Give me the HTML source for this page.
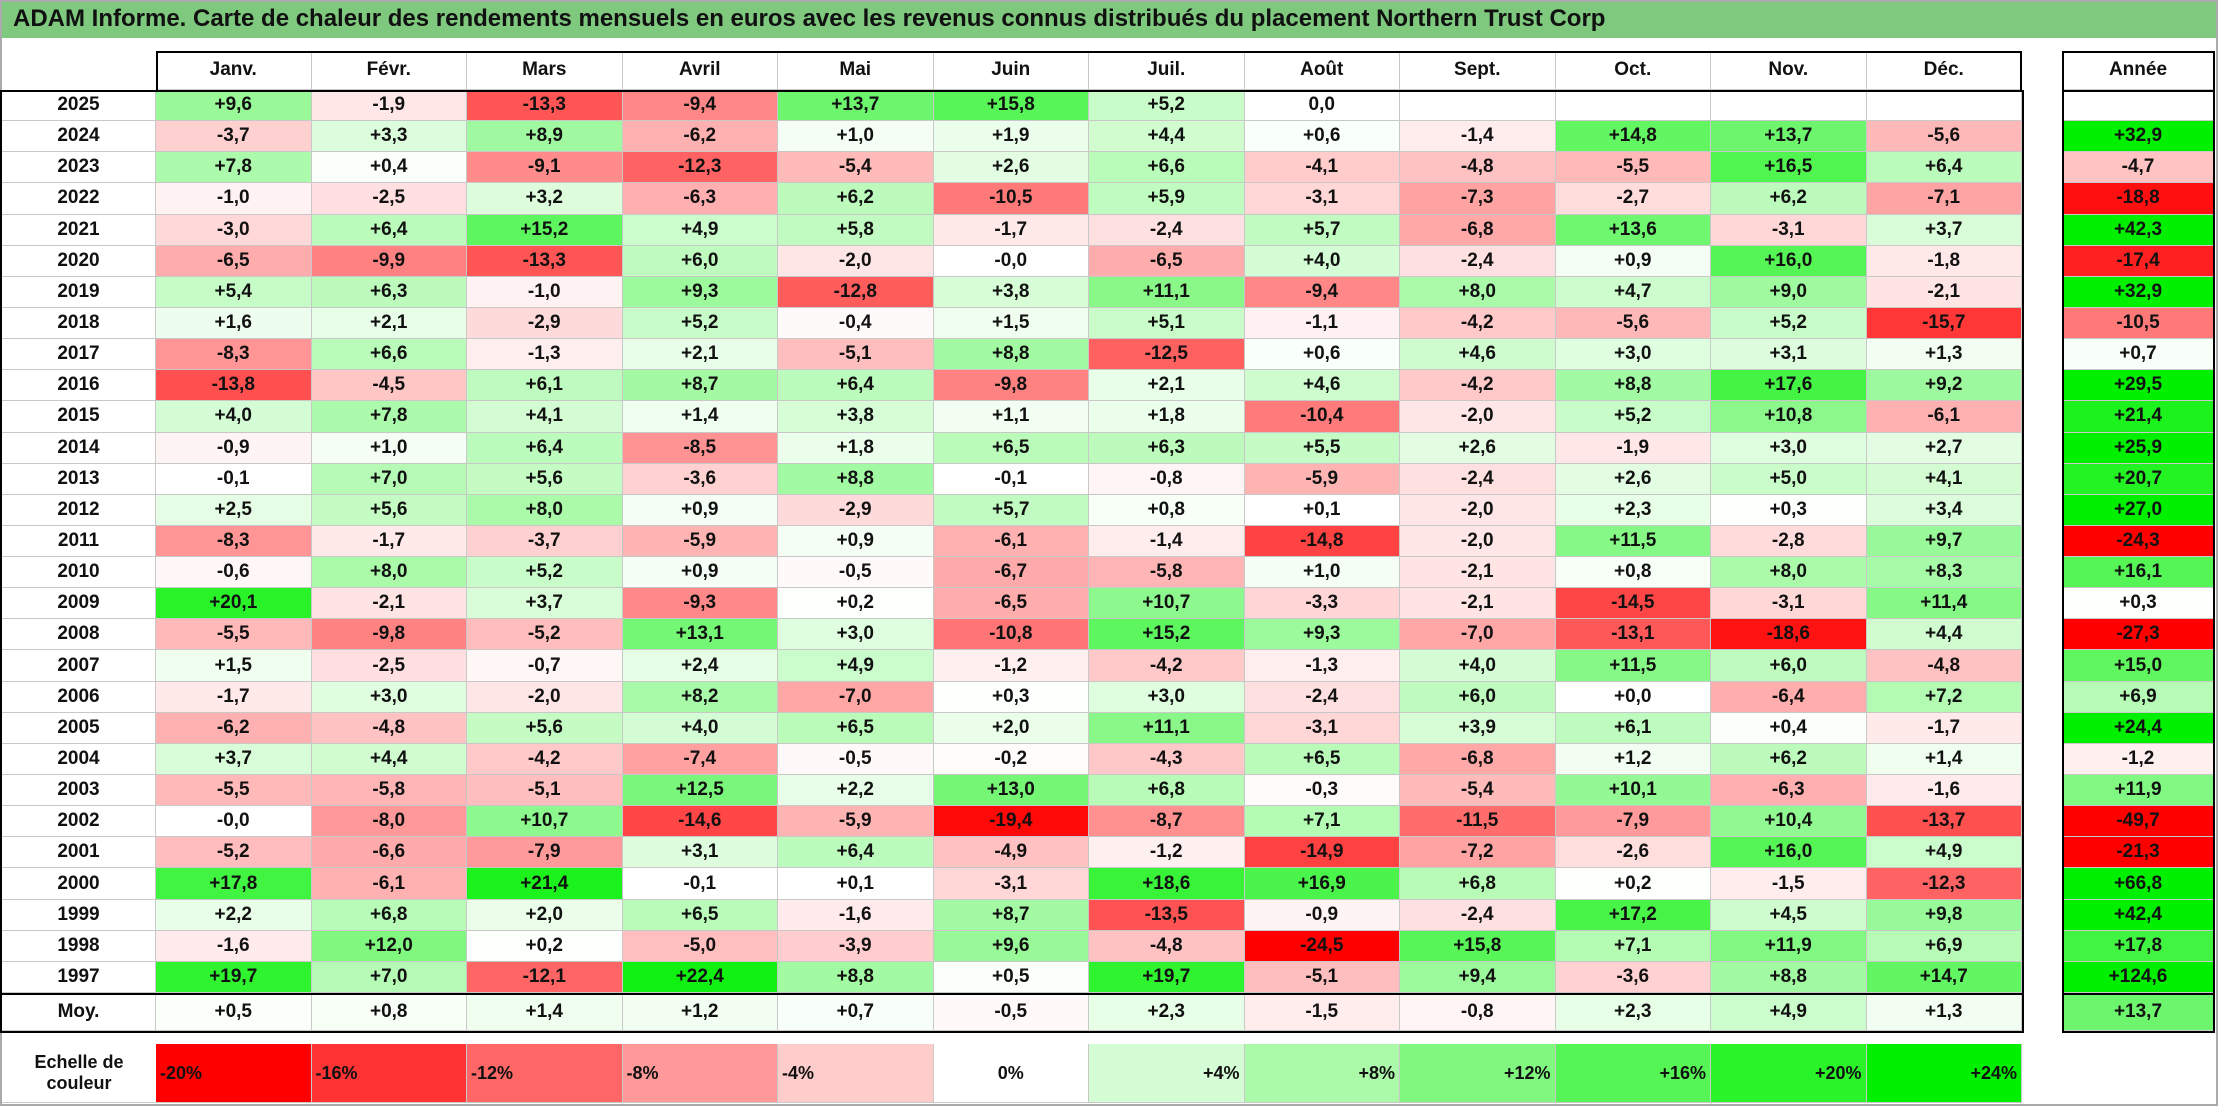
<!DOCTYPE html>
<html><head><meta charset="utf-8">
<style>
body{margin:0;background:#fff;}
#root{position:relative;width:2218px;height:1106px;overflow:hidden;font-family:"Liberation Sans",sans-serif;font-weight:bold;color:#111;}
.c{position:absolute;box-sizing:border-box;display:flex;align-items:center;justify-content:center;font-size:19px;border-right:1px solid #c8c8c8;border-bottom:1px solid #c8c8c8;}
.box{position:absolute;box-sizing:border-box;border:2px solid #000;pointer-events:none;}
</style></head><body>
<div id="root">
<div style="position:absolute;left:2px;top:0;width:2214px;height:38px;background:#7fc97f;font-size:24px;line-height:38px;padding-left:11px;box-sizing:border-box;">ADAM Informe. Carte de chaleur des rendements mensuels en euros avec les revenus connus distribués du placement Northern Trust Corp</div>
<div style="position:absolute;left:0;top:0;width:2218px;height:1106px;box-sizing:border-box;border:2px solid #aaa;pointer-events:none;"></div>
</div>
<script>
const months=["Janv.","Févr.","Mars","Avril","Mai","Juin","Juil.","Août","Sept.","Oct.","Nov.","Déc."];
const years=[2025,2024,2023,2022,2021,2020,2019,2018,2017,2016,2015,2014,2013,2012,2011,2010,2009,2008,2007,2006,2005,2004,2003,2002,2001,2000,1999,1998,1997];
const values=[
[9.6,-1.9,-13.3,-9.4,13.7,15.8,5.2,0.0,null,null,null,null],
[-3.7,3.3,8.9,-6.2,1.0,1.9,4.4,0.6,-1.4,14.8,13.7,-5.6],
[7.8,0.4,-9.1,-12.3,-5.4,2.6,6.6,-4.1,-4.8,-5.5,16.5,6.4],
[-1.0,-2.5,3.2,-6.3,6.2,-10.5,5.9,-3.1,-7.3,-2.7,6.2,-7.1],
[-3.0,6.4,15.2,4.9,5.8,-1.7,-2.4,5.7,-6.8,13.6,-3.1,3.7],
[-6.5,-9.9,-13.3,6.0,-2.0,-0.0,-6.5,4.0,-2.4,0.9,16.0,-1.8],
[5.4,6.3,-1.0,9.3,-12.8,3.8,11.1,-9.4,8.0,4.7,9.0,-2.1],
[1.6,2.1,-2.9,5.2,-0.4,1.5,5.1,-1.1,-4.2,-5.6,5.2,-15.7],
[-8.3,6.6,-1.3,2.1,-5.1,8.8,-12.5,0.6,4.6,3.0,3.1,1.3],
[-13.8,-4.5,6.1,8.7,6.4,-9.8,2.1,4.6,-4.2,8.8,17.6,9.2],
[4.0,7.8,4.1,1.4,3.8,1.1,1.8,-10.4,-2.0,5.2,10.8,-6.1],
[-0.9,1.0,6.4,-8.5,1.8,6.5,6.3,5.5,2.6,-1.9,3.0,2.7],
[-0.1,7.0,5.6,-3.6,8.8,-0.1,-0.8,-5.9,-2.4,2.6,5.0,4.1],
[2.5,5.6,8.0,0.9,-2.9,5.7,0.8,0.1,-2.0,2.3,0.3,3.4],
[-8.3,-1.7,-3.7,-5.9,0.9,-6.1,-1.4,-14.8,-2.0,11.5,-2.8,9.7],
[-0.6,8.0,5.2,0.9,-0.5,-6.7,-5.8,1.0,-2.1,0.8,8.0,8.3],
[20.1,-2.1,3.7,-9.3,0.2,-6.5,10.7,-3.3,-2.1,-14.5,-3.1,11.4],
[-5.5,-9.8,-5.2,13.1,3.0,-10.8,15.2,9.3,-7.0,-13.1,-18.6,4.4],
[1.5,-2.5,-0.7,2.4,4.9,-1.2,-4.2,-1.3,4.0,11.5,6.0,-4.8],
[-1.7,3.0,-2.0,8.2,-7.0,0.3,3.0,-2.4,6.0,0.0,-6.4,7.2],
[-6.2,-4.8,5.6,4.0,6.5,2.0,11.1,-3.1,3.9,6.1,0.4,-1.7],
[3.7,4.4,-4.2,-7.4,-0.5,-0.2,-4.3,6.5,-6.8,1.2,6.2,1.4],
[-5.5,-5.8,-5.1,12.5,2.2,13.0,6.8,-0.3,-5.4,10.1,-6.3,-1.6],
[-0.0,-8.0,10.7,-14.6,-5.9,-19.4,-8.7,7.1,-11.5,-7.9,10.4,-13.7],
[-5.2,-6.6,-7.9,3.1,6.4,-4.9,-1.2,-14.9,-7.2,-2.6,16.0,4.9],
[17.8,-6.1,21.4,-0.1,0.1,-3.1,18.6,16.9,6.8,0.2,-1.5,-12.3],
[2.2,6.8,2.0,6.5,-1.6,8.7,-13.5,-0.9,-2.4,17.2,4.5,9.8],
[-1.6,12.0,0.2,-5.0,-3.9,9.6,-4.8,-24.5,15.8,7.1,11.9,6.9],
[19.7,7.0,-12.1,22.4,8.8,0.5,19.7,-5.1,9.4,-3.6,8.8,14.7]];
const annual=[null,32.9,-4.7,-18.8,42.3,-17.4,32.9,-10.5,0.7,29.5,21.4,25.9,20.7,27.0,-24.3,16.1,0.3,-27.3,15.0,6.9,24.4,-1.2,11.9,-49.7,-21.3,66.8,42.4,17.8,124.6];
const averages=[0.5,0.8,1.4,1.2,0.7,-0.5,2.3,-1.5,-0.8,2.3,4.9,1.3];
const averageAnnual=13.7;
const scaleTicks=[-20,-16,-12,-8,-4,0,4,8,12,16,20,24];

const root=document.getElementById('root');
const X0=156,CW=155.5,Y0=90,RH=(993-90)/years.length,AX=2062,AW=153;
function color(v){
  if(v===null) return '#fff';
  if(v<0){const t=Math.min(1,-v/20);const g=Math.round(255*(1-t));return `rgb(255,${g},${g})`;}
  const t=Math.min(1,v/24);const r=Math.round(255*(1-t));return `rgb(${r},${Math.round(255-t*15)},${r})`;
}
function fmt(v){
  if(v===null) return '';
  const neg=v<0||Object.is(v,-0);
  return (neg?'-':'+')+Math.abs(v).toFixed(1).replace('.',',');
}
function cell(x,y,w,h,text,bg,name,fs){
  const d=document.createElement('div');
  d.className='c';
  d.style.cssText+=`left:${x}px;top:${y}px;width:${w}px;height:${h}px;background:${bg};`+(fs?`font-size:${fs}px;`:'');
  d.textContent=text;
  
  
  root.appendChild(d);return d;
}
function box(x,y,w,h,name){
  const d=document.createElement('div');d.className='box';
  d.style.cssText=`left:${x}px;top:${y}px;width:${w}px;height:${h}px;`;
  
  
  root.appendChild(d);
}
months.forEach((m,j)=>cell(X0+j*CW,51,CW,39,m,'#fff','month-header'));
cell(AX,51,AW,39,'Année','#fff','year-total-header');
years.forEach((yr,i)=>{
  const y=Y0+i*RH;
  cell(2,y,X0-2,RH,String(yr),'#fff','year-label');
  values[i].forEach((v,j)=>{
    const t=(i===0&&j===7)?'0,0':fmt(v);
    cell(X0+j*CW,y,CW,RH,t,color(v),'heatmap-cell');
  });
  cell(AX,y,AW,RH,fmt(annual[i]),color(annual[i]),'annual-cell');
});
cell(2,993,X0-2,38,'Moy.','#fff','average-label');
averages.forEach((v,j)=>cell(X0+j*CW,993,CW,38,fmt(v),color(v),'average-cell'));
cell(AX,993,AW,38,fmt(averageAnnual),color(averageAnnual),'average-annual-cell');
// legend
const lab=cell(2,1044,X0-2,59,'','#fff','legend-title',18);
lab.style.borderRight='none';lab.style.textAlign='center';lab.innerHTML='Echelle de<br>couleur';
scaleTicks.forEach((t,j)=>{
  const d=cell(X0+j*CW,1044,CW,59,(t>0?'+':'')+t+'%',color(t),'legend-entry',18);
  d.style.justifyContent=t<0?'flex-start':(t===0?'center':'flex-end');
  d.style.padding='0 4px';
});
box(X0,51,2022-X0,41,'header-border');
box(0,90,2024,905,'body-border');
box(0,993,2024,40,'average-border');
box(AX,51,AW,41,'annual-header-border');
box(AX,90,AW,905,'annual-body-border');
box(AX,993,AW,40,'annual-average-border');
</script>
</body></html>
